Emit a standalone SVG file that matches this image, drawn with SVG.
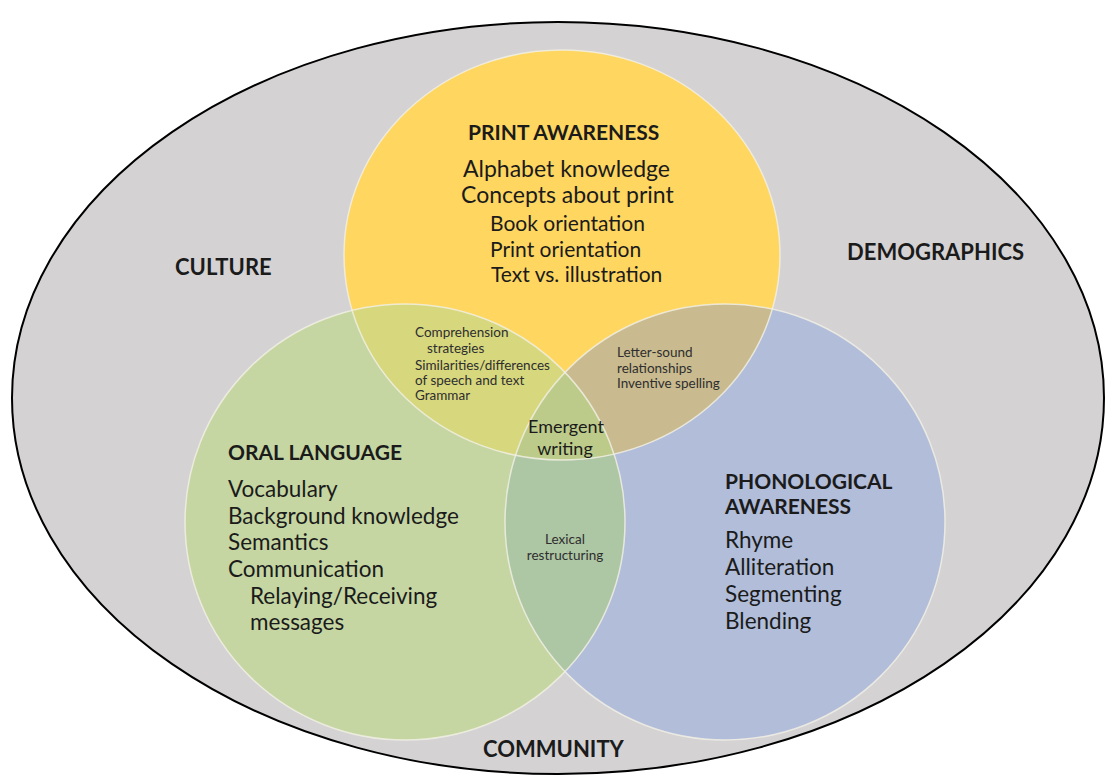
<svg xmlns="http://www.w3.org/2000/svg" width="1109" height="780" viewBox="0 0 1109 780">
<style>
text{font-family:Lato,"Open Sans","Liberation Sans",sans-serif;fill:#1b1b1b}
.h{font-weight:bold;font-size:21px}
.c{font-weight:bold;font-size:22px}
.t{font-size:23px}
.b{font-size:22.5px}
.u{font-size:21px}
.s{font-size:13.5px;fill:#2e2e2e}
.m{font-size:18px}
.ol{fill:none;stroke:#f4f1e6;stroke-width:1.5;stroke-opacity:0.8}
</style>
<defs>
<clipPath id="cY"><ellipse cx="562" cy="255" rx="218" ry="205"/></clipPath>
<clipPath id="cG"><ellipse cx="405" cy="522" rx="220" ry="218"/></clipPath>
</defs>
<rect width="1109" height="780" fill="#ffffff"/>
<g id="context">
<ellipse cx="558" cy="398" rx="546" ry="376" fill="#d4d2d3" stroke="#000" stroke-width="2"/>
<text class="c" x="175" y="275">CULTURE</text>
<text class="c" x="847" y="260">DEMOGRAPHICS</text>
<text class="c" x="483" y="757">COMMUNITY</text>
</g>
<g id="fills">
<ellipse cx="562" cy="255" rx="218" ry="205" fill="#fed660"/>
<ellipse cx="405" cy="522" rx="220" ry="218" fill="#c5d6a3"/>
<ellipse cx="725" cy="522" rx="220" ry="218" fill="#b1bdd9"/>
<g clip-path="url(#cY)">
<ellipse cx="405" cy="522" rx="220" ry="218" fill="#d7d77e"/>
<ellipse cx="725" cy="522" rx="220" ry="218" fill="#c9bb8f"/>
</g>
<g clip-path="url(#cG)">
<ellipse cx="725" cy="522" rx="220" ry="218" fill="#adc6a4"/>
</g>
<g clip-path="url(#cY)"><g clip-path="url(#cG)">
<ellipse cx="725" cy="522" rx="220" ry="218" fill="#bccb8a"/>
</g></g>
<ellipse class="ol" cx="562" cy="255" rx="218" ry="205"/>
<ellipse class="ol" cx="405" cy="522" rx="220" ry="218"/>
<ellipse class="ol" cx="725" cy="522" rx="220" ry="218"/>
</g>
<g id="print">
<text class="h" x="468" y="140">PRINT AWARENESS</text>
<text class="t" x="463" y="177">Alphabet knowledge</text>
<text class="t" x="461" y="203">Concepts about print</text>
<text class="u" x="490" y="231">Book orientation</text>
<text class="u" x="490" y="257">Print orientation</text>
<text class="u" x="491" y="282">Text vs. illustration</text>
</g>
<g id="oral">
<text class="h" x="228" y="460">ORAL LANGUAGE</text>
<text class="b" x="228" y="497">Vocabulary</text>
<text class="b" x="228" y="524">Background knowledge</text>
<text class="b" x="228" y="550">Semantics</text>
<text class="b" x="228" y="577">Communication</text>
<text class="b" x="250" y="604">Relaying/Receiving</text>
<text class="b" x="250" y="630">messages</text>
</g>
<g id="phon">
<text class="h" x="725" y="489">PHONOLOGICAL</text>
<text class="h" x="725" y="514">AWARENESS</text>
<text class="b" x="725" y="548">Rhyme</text>
<text class="b" x="725" y="575">Alliteration</text>
<text class="b" x="725" y="602">Segmenting</text>
<text class="b" x="725" y="629">Blending</text>
</g>
<g id="print-oral">
<text class="s" x="415" y="337">Comprehension</text>
<text class="s" x="427" y="353">strategies</text>
<text class="s" x="415" y="370">Similarities/differences</text>
<text class="s" x="415" y="385">of speech and text</text>
<text class="s" x="415" y="400">Grammar</text>
</g>
<g id="print-phon">
<text class="s" x="617" y="357">Letter-sound</text>
<text class="s" x="617" y="373">relationships</text>
<text class="s" x="617" y="388">Inventive spelling</text>
</g>
<g id="center">
<text class="m" x="566" y="433" text-anchor="middle">Emergent</text>
<text class="m" x="565" y="455" text-anchor="middle">writing</text>
</g>
<g id="oral-phon">
<text class="s" x="565" y="544" text-anchor="middle">Lexical</text>
<text class="s" x="565" y="560" text-anchor="middle">restructuring</text>
</g>
</svg>
